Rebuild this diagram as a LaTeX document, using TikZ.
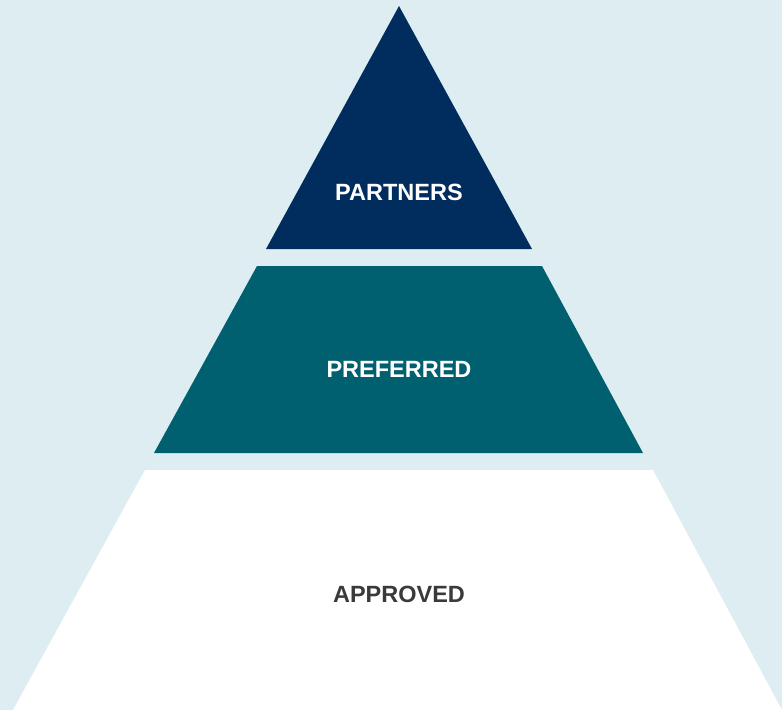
\documentclass[tikz,border=0pt]{standalone}
\usepackage{fontspec}
\setmainfont{Liberation Sans}
\definecolor{bgblue}{HTML}{DDEDF2}
\definecolor{navy}{HTML}{002D5E}
\definecolor{teal}{HTML}{00606F}
\definecolor{txtgrey}{HTML}{3A3A3A}
\begin{document}
\begin{tikzpicture}[x=1pt,y=-1pt,
  lbl/.style={font=\fontsize{23.5}{27}\selectfont\bfseries, anchor=center}]
\fill[bgblue] (0,0) rectangle (782,710);
\useasboundingbox (0,0) rectangle (782,710);
\fill[navy] (399,6) -- (532,249) -- (266,249) -- cycle;
\fill[teal] (257,266) -- (542,266) -- (643,453) -- (154,453) -- cycle;
\fill[white] (145,470) -- (653,470) -- (782,710) -- (13,710) -- cycle;
\node[lbl, text=white] (partners) at (399,192) {PARTNERS};
\node[lbl, text=white] (preferred) at (399,369) {PREFERRED};
\node[lbl, text=txtgrey] (approved) at (399,594) {APPROVED};
\end{tikzpicture}
\end{document}
